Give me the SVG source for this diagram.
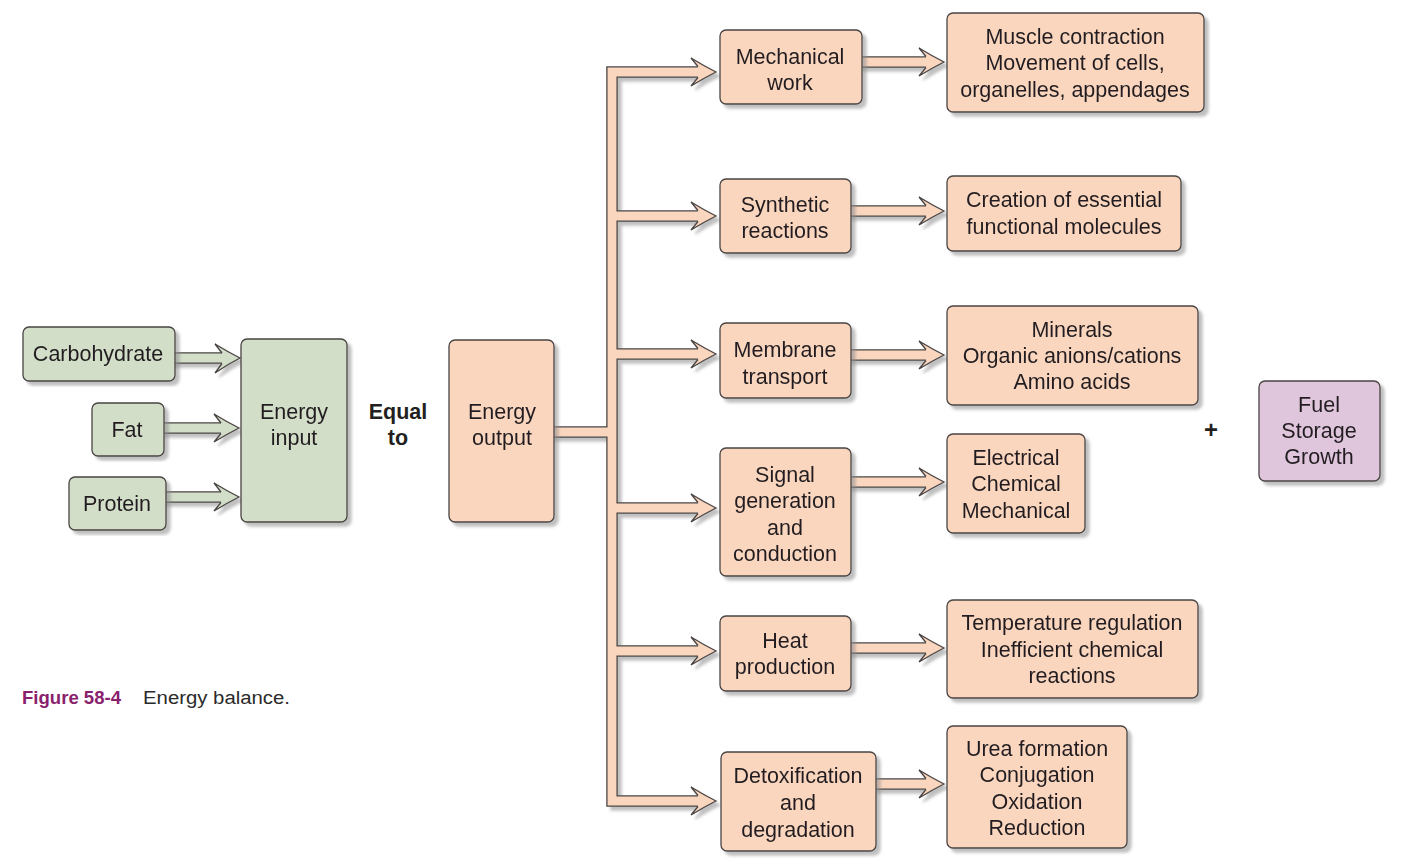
<svg xmlns="http://www.w3.org/2000/svg" width="1408" height="865" viewBox="0 0 1408 865">
<defs>
<filter id="sh" x="-5%" y="-5%" width="115%" height="115%">
<feGaussianBlur in="SourceAlpha" stdDeviation="1.4"/>
<feOffset dx="4" dy="4" result="o"/>
<feFlood flood-color="#8c8c8c" flood-opacity="0.55"/>
<feComposite in2="o" operator="in"/>
<feMerge><feMergeNode/><feMergeNode in="SourceGraphic"/></feMerge>
</filter>
<style>
.pe{fill:#fad6bf;stroke:#4a4443;stroke-width:1.3}
.gr{fill:#d2dec8;stroke:#4a4443;stroke-width:1.3}
.li{fill:#dfc6dc;stroke:#4a4443;stroke-width:1.3}
.t{font-family:"Liberation Sans",Arial,sans-serif;font-size:21.5px;fill:#231f20;text-anchor:middle}
.b{font-weight:bold}
.so{fill:none;stroke:#4a4443;stroke-width:11.5;stroke-linejoin:miter}
.sip{fill:none;stroke:#fad6bf;stroke-width:8.9;stroke-linejoin:miter}
.sig{fill:none;stroke:#d2dec8;stroke-width:8.9;stroke-linejoin:miter}
.hp{fill:#fad6bf;stroke:#4a4443;stroke-width:1.3;stroke-linejoin:miter}
.hg{fill:#d2dec8;stroke:#4a4443;stroke-width:1.3;stroke-linejoin:miter}
</style>
</defs>
<rect width="1408" height="865" fill="#ffffff"/>

<g id="connectors" filter="url(#sh)">
<g id="input-arrows">
<path class="so" d="M170 358 H222 M160 428 H221 M160 497 H221"/>
<path class="sig" d="M170 358 H223 M160 428 H222 M160 497 H222"/>
<path class="hg" d="M222 353 L215 344 Q228 352 240 358 Q228 364 215 373 L222 363.5"/>
<path class="hg" d="M221 423 L214 414 Q227 422 239 428 Q227 434 214 442 L221 433.5"/>
<path class="hg" d="M221 492 L214 483 Q227 491 239 497 Q227 503 214 511 L221 502.5"/>
</g>
<g id="output-tree">
<path class="so" d="M698 72 H612 V801 H698 M612 216 H698 M612 354 H698 M612 508 H698 M612 651 H698 M550 432 H612"/>
<path class="sip" d="M699 72 H612 V801 H699 M612 216 H699 M612 354 H699 M612 508 H699 M612 651 H699 M550 432 H612"/>
<path class="hp" d="M698 66.5 L691 58 Q704 66 716 72 Q704 78 691 86 L698 77.5"/>
<path class="hp" d="M698 210.5 L691 202 Q704 210 716 216 Q704 222 691 230 L698 221.5"/>
<path class="hp" d="M698 348.5 L691 340 Q704 348 716 354 Q704 360 691 368 L698 359.5"/>
<path class="hp" d="M698 502.5 L691 494 Q704 502 716 508 Q704 514 691 522 L698 513.5"/>
<path class="hp" d="M698 645.5 L691 637 Q704 645 716 651 Q704 657 691 665 L698 656.5"/>
<path class="hp" d="M698 795.5 L691 787 Q704 795 716 801 Q704 807 691 815 L698 806.5"/>
</g>
<g id="result-arrows">
<path class="so" d="M858 62 H926 M847 211 H926 M847 355 H926 M847 482 H926 M847 648 H926 M872 784 H926"/>
<path class="sip" d="M858 62 H927 M847 211 H927 M847 355 H927 M847 482 H927 M847 648 H927 M872 784 H927"/>
<path class="hp" d="M926 56.5 L919 48 Q932 56 944 62 Q932 68 919 76 L926 67.5"/>
<path class="hp" d="M926 205.5 L919 197 Q932 205 944 211 Q932 217 919 225 L926 216.5"/>
<path class="hp" d="M926 349.5 L919 341 Q932 349 944 355 Q932 361 919 369 L926 360.5"/>
<path class="hp" d="M926 476.5 L919 468 Q932 476 944 482 Q932 488 919 496 L926 487.5"/>
<path class="hp" d="M926 642.5 L919 634 Q932 642 944 648 Q932 654 919 662 L926 653.5"/>
<path class="hp" d="M926 778.5 L919 770 Q932 778 944 784 Q932 790 919 798 L926 789.5"/>
</g>
</g>

<g id="carbohydrate" filter="url(#sh)"><rect class="gr" x="23" y="327" width="152" height="54" rx="6"/><text class="t" x="98" y="361">Carbohydrate</text></g>
<g id="fat" filter="url(#sh)"><rect class="gr" x="92" y="403" width="72" height="53" rx="6"/><text class="t" x="127" y="437">Fat</text></g>
<g id="protein" filter="url(#sh)"><rect class="gr" x="69" y="477" width="97" height="53" rx="6"/><text class="t" x="117" y="511">Protein</text></g>
<g id="energy-input" filter="url(#sh)"><rect class="gr" x="241" y="339" width="106" height="183" rx="6"/><text class="t" x="294" y="419">Energy</text><text class="t" x="294" y="445">input</text></g>
<g id="equal-to"><text class="t b" x="398" y="419">Equal</text><text class="t b" x="398" y="445">to</text></g>
<g id="energy-output" filter="url(#sh)"><rect class="pe" x="449" y="340" width="105" height="182" rx="6"/><text class="t" x="502" y="419">Energy</text><text class="t" x="502" y="445">output</text></g>

<g id="mechanical-work" filter="url(#sh)"><rect class="pe" x="720" y="30" width="142" height="74" rx="6"/><text class="t" x="790" y="64">Mechanical</text><text class="t" x="790" y="90">work</text></g>
<g id="synthetic-reactions" filter="url(#sh)"><rect class="pe" x="720" y="179" width="131" height="74" rx="6"/><text class="t" x="785" y="212">Synthetic</text><text class="t" x="785" y="238">reactions</text></g>
<g id="membrane-transport" filter="url(#sh)"><rect class="pe" x="720" y="323" width="131" height="75" rx="6"/><text class="t" x="785" y="357">Membrane</text><text class="t" x="785" y="384">transport</text></g>
<g id="signal" filter="url(#sh)"><rect class="pe" x="720" y="448" width="131" height="128" rx="6"/><text class="t" x="785" y="482">Signal</text><text class="t" x="785" y="508">generation</text><text class="t" x="785" y="535">and</text><text class="t" x="785" y="561">conduction</text></g>
<g id="heat-production" filter="url(#sh)"><rect class="pe" x="720" y="616" width="131" height="75" rx="6"/><text class="t" x="785" y="648">Heat</text><text class="t" x="785" y="674">production</text></g>
<g id="detoxification" filter="url(#sh)"><rect class="pe" x="721" y="752" width="155" height="99" rx="6"/><text class="t" x="798" y="783">Detoxification</text><text class="t" x="798" y="810">and</text><text class="t" x="798" y="837">degradation</text></g>

<g id="muscle" filter="url(#sh)"><rect class="pe" x="947" y="13" width="257" height="99" rx="6"/><text class="t" x="1075" y="44">Muscle contraction</text><text class="t" x="1075" y="70">Movement of cells,</text><text class="t" x="1075" y="97">organelles, appendages</text></g>
<g id="creation" filter="url(#sh)"><rect class="pe" x="947" y="176" width="234" height="75" rx="6"/><text class="t" x="1064" y="207">Creation of essential</text><text class="t" x="1064" y="234">functional molecules</text></g>
<g id="minerals" filter="url(#sh)"><rect class="pe" x="947" y="306" width="251" height="99" rx="6"/><text class="t" x="1072" y="337">Minerals</text><text class="t" x="1072" y="363">Organic anions/cations</text><text class="t" x="1072" y="389">Amino acids</text></g>
<g id="electrical" filter="url(#sh)"><rect class="pe" x="947" y="434" width="138" height="99" rx="6"/><text class="t" x="1016" y="465">Electrical</text><text class="t" x="1016" y="491">Chemical</text><text class="t" x="1016" y="518">Mechanical</text></g>
<g id="temperature" filter="url(#sh)"><rect class="pe" x="947" y="600" width="251" height="98" rx="6"/><text class="t" x="1072" y="630">Temperature regulation</text><text class="t" x="1072" y="657">Inefficient chemical</text><text class="t" x="1072" y="683">reactions</text></g>
<g id="urea" filter="url(#sh)"><rect class="pe" x="947" y="726" width="180" height="122" rx="6"/><text class="t" x="1037" y="756">Urea formation</text><text class="t" x="1037" y="782">Conjugation</text><text class="t" x="1037" y="809">Oxidation</text><text class="t" x="1037" y="835">Reduction</text></g>

<g id="plus"><text class="t b" x="1211" y="438" style="font-size:24px">+</text></g>
<g id="fuel" filter="url(#sh)"><rect class="li" x="1259" y="381" width="121" height="100" rx="6"/><text class="t" x="1319" y="412">Fuel</text><text class="t" x="1319" y="438">Storage</text><text class="t" x="1319" y="464">Growth</text></g>

<g id="caption">
<text x="22" y="704" textLength="99" lengthAdjust="spacingAndGlyphs" style="font-family:'Liberation Sans',Arial,sans-serif;font-weight:bold;font-size:19px;fill:#8a1f6e">Figure 58-4</text>
<text x="143" y="704" textLength="147" lengthAdjust="spacingAndGlyphs" style="font-family:'Liberation Sans',Arial,sans-serif;font-size:18px;fill:#2a2a2a">Energy balance.</text>
</g>
</svg>
